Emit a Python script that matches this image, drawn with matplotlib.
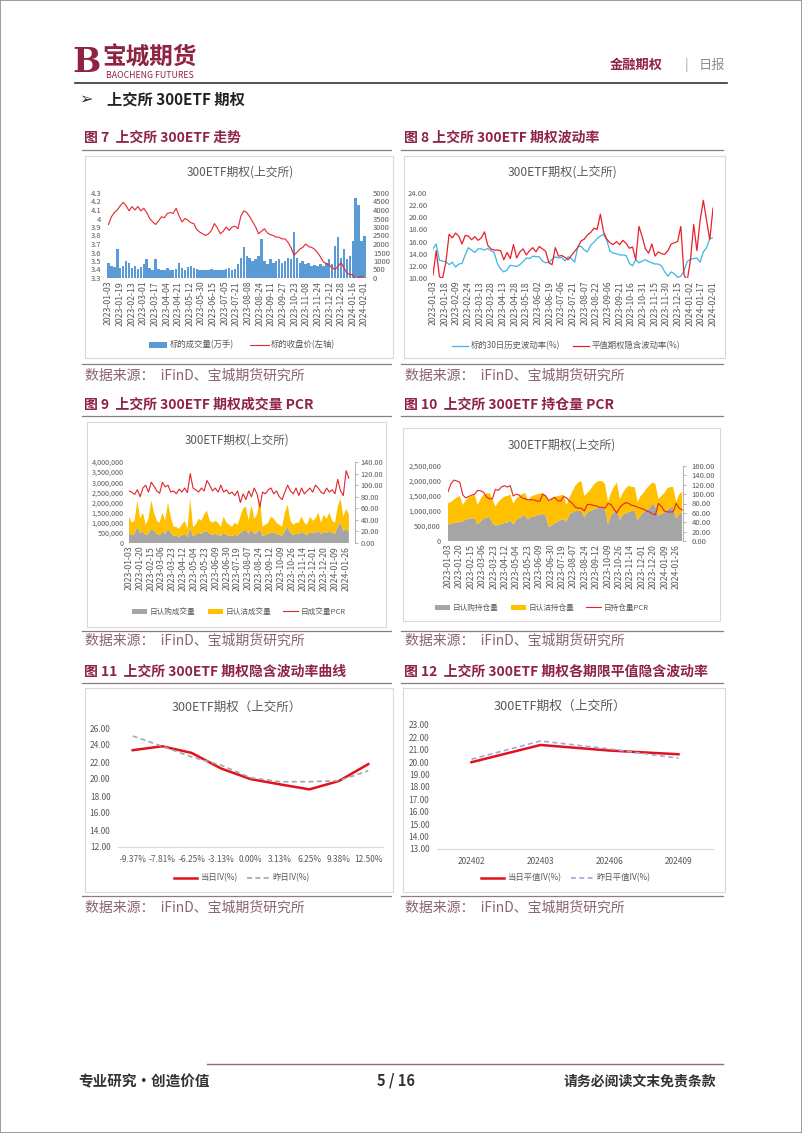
import numpy as np
import matplotlib
matplotlib.use('Agg')
import matplotlib.pyplot as plt
from matplotlib.patches import Rectangle
from matplotlib.lines import Line2D
from matplotlib.ticker import FuncFormatter

plt.rcParams['font.family'] = ['Noto Sans CJK SC', 'DejaVu Sans']

# ---- data: chart 7 (300ETF price and volume)
dates7 = ['2023-01-03', '2023-01-19', '2023-02-13', '2023-03-01', '2023-03-17', '2023-04-04',
          '2023-04-21', '2023-05-12', '2023-05-30', '2023-06-15', '2023-07-05', '2023-07-21',
          '2023-08-08', '2023-08-24', '2023-09-11', '2023-09-27', '2023-10-23', '2023-11-08',
          '2023-11-24', '2023-12-12', '2023-12-28', '2024-01-16', '2024-02-01']
price7 = [3.93, 4.02, 4.07, 4.10, 4.15, 4.19, 4.15, 4.09, 4.14, 4.10,
          4.14, 4.09, 4.12, 4.07, 4.00, 3.96, 3.93, 3.97, 4.02, 4.01,
          4.06, 4.07, 4.06, 4.12, 4.03, 3.96, 4.00, 3.98, 3.95, 3.94,
          3.87, 3.84, 3.82, 3.80, 3.82, 3.86, 3.94, 3.89, 3.82, 3.85,
          3.90, 3.86, 3.90, 3.91, 3.88, 4.03, 4.09, 4.07, 4.02, 3.96,
          3.90, 3.82, 3.85, 3.88, 3.83, 3.81, 3.80, 3.78, 3.78, 3.76,
          3.76, 3.72, 3.66, 3.57, 3.60, 3.64, 3.66, 3.70, 3.67, 3.66,
          3.64, 3.60, 3.55, 3.49, 3.47, 3.45, 3.42, 3.40, 3.44, 3.48,
          3.42, 3.36, 3.34, 3.34, 3.28, 3.31, 3.32, 3.29]
vol7 = [900, 700, 650, 1700, 600, 700, 1000, 900, 600, 700,
        550, 650, 800, 1100, 600, 500, 1100, 550, 500, 450,
        600, 500, 450, 550, 900, 600, 500, 650, 700, 600,
        550, 450, 500, 450, 500, 550, 450, 500, 450, 500,
        550, 600, 500, 550, 800, 1200, 1800, 1300, 1200, 1000,
        1100, 1300, 2300, 1000, 800, 1100, 900, 1000, 1100, 900,
        1000, 1200, 1100, 2700, 1200, 900, 1000, 800, 900, 700,
        750, 700, 800, 700, 900, 1100, 800, 1900, 2400, 1200,
        1700, 1100, 1300, 2200, 4700, 4300, 2200, 2500]

# ---- data: chart 8 (volatility)
dates8 = ['2023-01-03', '2023-01-18', '2023-02-09', '2023-02-24', '2023-03-13', '2023-03-28',
          '2023-04-13', '2023-04-28', '2023-05-18', '2023-06-02', '2023-06-19', '2023-07-06',
          '2023-07-21', '2023-08-07', '2023-08-22', '2023-09-06', '2023-09-21', '2023-10-16',
          '2023-10-31', '2023-11-15', '2023-11-30', '2023-12-15', '2024-01-02', '2024-01-17',
          '2024-02-01']
hv8 = [14.8, 15.6, 12.9, 12.8, 12.7, 12.2, 12.6, 11.8, 12.3, 12.4,
       13.8, 15.0, 14.6, 14.2, 14.8, 14.8, 14.6, 14.9, 14.5, 14.2,
       12.4, 11.5, 11.0, 11.3, 12.1, 12.0, 11.9, 12.2, 12.7, 13.3,
       13.2, 13.6, 13.5, 13.5, 12.8, 12.5, 12.6, 13.1, 13.5, 13.3,
       13.4, 12.8, 13.5, 13.2, 12.6, 15.2, 15.2, 14.6, 14.3, 15.4,
       15.9, 16.5, 16.9, 17.2, 16.2, 14.4, 14.1, 14.0, 13.8, 13.8,
       13.7, 12.4, 12.0, 13.0, 12.5, 12.8, 13.0, 12.7, 12.5, 12.3,
       12.3, 12.0, 11.0, 10.3, 11.0, 10.7, 10.1, 10.3, 11.2, 12.7,
       13.1, 13.2, 13.3, 12.6, 14.3, 15.0, 16.5, 16.6]
iv8 = [10.5, 14.5, 10.2, 10.0, 12.6, 17.2, 16.6, 17.4, 16.9, 15.6,
       17.0, 16.9, 16.3, 16.8, 16.2, 16.6, 17.6, 15.4, 14.8, 14.6,
       14.6, 14.5, 13.0, 14.2, 13.2, 15.5, 13.3, 14.3, 14.8, 13.8,
       14.5, 15.0, 14.3, 15.2, 14.8, 14.4, 12.5, 12.2, 15.0, 13.6,
       13.7, 13.4, 13.0, 13.7, 14.4, 15.0, 16.1, 16.4, 17.1, 17.5,
       18.2, 18.0, 20.5, 17.6, 16.4, 15.8, 15.5, 16.0, 15.5, 16.2,
       15.7, 14.9, 15.1, 13.0, 18.5, 16.8, 14.8, 14.1, 15.6, 13.6,
       14.3, 14.0, 13.9, 14.5, 15.6, 15.8, 16.0, 18.5, 10.5, 9.6,
       13.0, 18.8, 14.5, 19.5, 22.8, 19.5, 16.3, 21.5]

# ---- data: chart 9 (volume PCR)
dates9 = ['2023-01-03', '2023-01-20', '2023-02-15', '2023-03-06', '2023-03-23', '2023-04-12',
          '2023-05-04', '2023-05-23', '2023-06-09', '2023-06-30', '2023-07-19', '2023-08-07',
          '2023-08-24', '2023-09-12', '2023-10-09', '2023-10-26', '2023-11-14', '2023-12-01',
          '2023-12-20', '2024-01-09', '2024-01-26']
call9 = [500, 400, 450, 800, 500, 550, 400, 450, 700, 600,
         450, 400, 550, 450, 700, 500, 350, 350, 300, 400,
         450, 300, 750, 350, 400, 500, 450, 550, 600, 450,
         400, 450, 400, 350, 500, 400, 350, 350, 400, 350,
         500, 600, 650, 450, 650, 450, 500, 700, 350, 400,
         450, 500, 500, 450, 400, 350, 600, 800, 500, 400,
         450, 450, 550, 450, 400, 550, 500, 500, 600, 450,
         550, 500, 600, 500, 450, 800, 1000, 600, 700, 550]
put9 = [800, 600, 650, 1300, 700, 950, 500, 750, 1400, 900,
        650, 600, 950, 650, 1300, 800, 450, 450, 400, 500,
        650, 400, 1450, 450, 500, 700, 650, 850, 1000, 650,
        600, 650, 600, 450, 800, 600, 550, 450, 600, 550,
        800, 1100, 1150, 650, 1250, 750, 900, 1500, 450, 500,
        550, 800, 700, 550, 500, 450, 900, 1100, 600, 500,
        550, 550, 750, 550, 500, 750, 600, 700, 900, 550,
        850, 700, 900, 600, 550, 1000, 1200, 700, 1000, 850]
pcr9 = [90, 88, 84, 92, 80, 95, 100, 88, 105, 98,
        90, 86, 105, 97, 100, 88, 90, 85, 93, 88,
        95, 87, 120, 95, 92, 88, 95, 90, 108, 100,
        90, 95, 88, 100, 88, 92, 85, 88, 82, 90,
        70, 85, 75, 90, 80, 95, 85, 62, 88, 85,
        92, 95, 85, 90, 80, 75, 88, 100, 90, 85,
        95, 82, 95, 85, 90, 95, 88, 100, 95, 88,
        85, 95, 88, 92, 85, 110, 90, 82, 125, 112]

# ---- data: chart 10 (open interest PCR)
call10 = [550, 580, 600, 620, 650, 650, 720, 750, 750, 760,
          550, 650, 750, 780, 800, 600, 500, 540, 560, 600,
          620, 700, 550, 700, 760, 820, 850, 720, 800, 820,
          850, 880, 900, 850, 460, 520, 600, 650, 700, 720,
          650, 900, 950, 1000, 1000, 1000, 800, 950, 1000, 1050,
          1080, 1100, 1100, 1050, 560, 850, 950, 1000, 700, 880,
          920, 960, 1000, 1000, 700, 850, 950, 1050, 1100, 1250,
          1150, 850, 900, 950, 1050, 1100, 1100, 750, 900, 950]
put10 = [700, 720, 780, 830, 850, 550, 630, 700, 750, 790,
         650, 750, 800, 800, 800, 800, 650, 760, 840, 880,
         880, 850, 700, 700, 740, 740, 750, 630, 680, 700,
         700, 700, 700, 650, 840, 900, 880, 850, 820, 830,
         550, 550, 700, 850, 950, 1000, 700, 650, 700, 800,
         870, 900, 900, 850, 740, 750, 850, 950, 700, 720,
         830, 890, 800, 800, 600, 650, 650, 700, 750, 700,
         750, 550, 600, 650, 700, 700, 700, 550, 650, 700]
pcr10 = [105, 122, 130, 128, 125, 98, 92, 95, 98, 100,
         108, 107, 104, 94, 90, 90, 110, 108, 115, 118,
         115, 118, 96, 100, 98, 92, 90, 88, 88, 88,
         85, 85, 100, 96, 86, 90, 93, 86, 85, 95,
         92, 85, 80, 72, 70, 70, 64, 78, 78, 76,
         75, 72, 72, 70, 80, 78, 68, 60, 72, 78,
         82, 80, 76, 75, 72, 70, 68, 64, 62, 58,
         56, 80, 74, 64, 62, 62, 62, 80, 70, 66]

# ---- data: chart 11 (smile) and chart 12 (term structure)
strikes = ['-9.37%', '-7.81%', '-6.25%', '-3.13%', '0.00%', '3.13%', '6.25%', '9.38%', '12.50%']
iv_today = [23.39, 23.85, 23.07, 21.24, 19.99, 19.37, 18.78, 19.76, 21.75]
iv_yday = [25.06, 23.85, 22.60, 21.63, 20.15, 19.68, 19.68, 19.80, 20.97]
months = ['202402', '202403', '202406', '202409']
atm_today = [20.00, 21.39, 20.94, 20.64]
atm_yday = [20.24, 21.71, 21.07, 20.32]

W, H = 802, 1133
MAROON = '#8E2343'
GREY = '#595959'
fig = plt.figure(figsize=(W / 100, H / 100), dpi=100)


def fx(x):
    return x / W


def fy(y):
    return 1 - y / H


def add_ax(x0, y0, x1, y1):
    return fig.add_axes([x0 / W, 1 - y1 / H, (x1 - x0) / W, (y1 - y0) / H])


def hline(x0, x1, y, color, lw=1.0):
    fig.add_artist(Line2D([fx(x0), fx(x1)], [fy(y), fy(y)], color=color, lw=lw))


def box(x0, y0, x1, y1):
    fig.add_artist(Rectangle((fx(x0), fy(y1)), (x1 - x0) / W, (y1 - y0) / H,
                             fill=False, ec='#D9D9D9', lw=0.8))


def text(x, y, s, **kw):
    kw.setdefault('va', 'center')
    fig.text(fx(x), fy(y), s, **kw)


def style(ax, size=5.5, pad=4):
    for s in ax.spines.values():
        s.set_visible(False)
    ax.set_facecolor('none')
    ax.tick_params(length=0, labelcolor=GREY, labelsize=size, pad=pad)


def dates_axis(ax, labels, last):
    ax.set_xticks(np.linspace(0, last, len(labels)))
    ax.set_xticklabels(labels, rotation=90)
    ax.tick_params(axis='x', labelsize=6.3, pad=2)


def legend(handles, labels, x, y, size=6, **kw):
    fig.legend(handles, labels, loc='center', bbox_to_anchor=(fx(x), fy(y)), ncol=len(handles),
               frameon=False, fontsize=size, labelcolor=GREY, handletextpad=0.3, **kw)


# ---- page frame, header and footer
fig.add_artist(Rectangle((0, 0), 1, 1, fill=False, ec='#8C8C8C', lw=1.2))
text(87, 62, 'B', fontsize=24, color=MAROON, ha='center', family='DejaVu Serif', weight='bold')
text(150, 58, '宝城期货', fontsize=17, color=MAROON, ha='center', weight='bold')
text(150, 75, 'BAOCHENG FUTURES', fontsize=6.3, color=MAROON, ha='center')
text(636, 65, '金融期权', fontsize=9.5, color=MAROON, ha='center', weight='bold')
text(686, 65, '|', fontsize=9.5, color='#A6A6A6', ha='center')
text(712, 65, '日报', fontsize=9.5, color='#8C8C8C', ha='center')
hline(75, 727, 83, '#333333', 1.2)
text(79, 100, '➢', fontsize=11.5, color='#333333', family=['DejaVu Sans'])
text(107, 100, '上交所 300ETF 期权', fontsize=11, color='#222222', weight='bold')

hline(207, 723, 1064, '#8E6E7D', 1.0)
text(78, 1081, '专业研究·创造价值', fontsize=10.5, color='#333333', weight='bold')
text(396, 1081, '5 / 16', fontsize=10.5, color='#333333', ha='center', weight='bold')
text(716, 1081, '请务必阅读文末免责条款', fontsize=10, color='#333333', ha='right', weight='bold')

# ---- section titles, rules and sources
titles = [(84, 138, '图 7  上交所 300ETF 走势'), (404, 138, '图 8 上交所 300ETF 期权波动率'),
          (84, 405, '图 9  上交所 300ETF 期权成交量 PCR'), (404, 405, '图 10  上交所 300ETF 持仓量 PCR'),
          (84, 672, '图 11  上交所 300ETF 期权隐含波动率曲线'),
          (404, 672, '图 12  上交所 300ETF 期权各期限平值隐含波动率')]
for x, y, s in titles:
    text(x, y, s, fontsize=10, color=MAROON, weight='bold')
for y in [150, 364, 416, 631, 683, 896]:
    hline(82, 391, y, '#8E7A83', 0.9)
    hline(401, 723, y, '#8E7A83', 0.9)
for y in [376, 641, 908]:
    text(85, y, '数据来源：  iFinD、宝城期货研究所', fontsize=10, color='#8B6474')
    text(405, y, '数据来源：  iFinD、宝城期货研究所', fontsize=10, color='#8B6474')

for b in [(85, 156, 393, 358), (404, 156, 725, 358), (87, 422, 386, 627),
          (403, 428, 720, 621), (85, 688, 393, 892), (403, 688, 725, 892)]:
    box(*b)

# ---- chart 7
text(240, 172, '300ETF期权(上交所)', fontsize=8.5, color=GREY, ha='center')
ax7 = add_ax(107, 193, 366, 278)
x7 = np.arange(len(price7))
bars7 = ax7.bar(x7, vol7, width=0.85, color='#5B9BD5')
ax7.set_ylim(0, 5000)
ax7.set_yticks(range(0, 5001, 500))
ax7.set_xlim(-0.5, len(x7) - 0.5)
ax7p = ax7.twinx()
line7, = ax7p.plot(x7, price7, color='#E3262E', lw=0.8)
ax7p.set_ylim(3.3, 4.3)
ticks7 = np.round(np.arange(3.3, 4.31, 0.1), 1)
ax7p.set_yticks(ticks7)
ax7p.set_yticklabels([f'{v:g}' for v in ticks7])
ax7.yaxis.tick_right()
ax7p.yaxis.tick_left()
style(ax7, pad=5)
style(ax7p, pad=4)
dates_axis(ax7, dates7, len(x7) - 1)
legend([bars7, line7], ['标的成交量(万手)', '标的收盘价(左轴)'], 242, 345,
       handlelength=2.2, columnspacing=2.0)

# ---- chart 8
text(563, 173, '300ETF期权(上交所)', fontsize=8.7, color=GREY, ha='center')
ax8 = add_ax(433, 193, 713, 278)
x8 = np.arange(len(hv8))
l8a, = ax8.plot(x8, hv8, color='#3DB5E6', lw=0.9)
l8b, = ax8.plot(x8, iv8, color='#E8202C', lw=0.9)
ax8.set_ylim(10, 24)
ax8.set_yticks(range(10, 25, 2))
ax8.yaxis.set_major_formatter(FuncFormatter(lambda v, p: f'{v:.2f}'))
ax8.set_xlim(0, len(x8) - 1)
style(ax8, pad=4)
dates_axis(ax8, dates8, len(x8) - 1)
legend([l8a, l8b], ['标的30日历史波动率(%)', '平值期权隐含波动率(%)'], 566, 346,
       handlelength=2.0, columnspacing=1.5)

# ---- chart 9
text(237, 440, '300ETF期权(上交所)', fontsize=8.3, color=GREY, ha='center')
ax9 = add_ax(129, 462, 355, 543)
x9 = np.arange(len(call9))
st9 = ax9.stackplot(x9, np.array(call9) * 1000, np.array(put9) * 1000,
                    colors=['#A5A5A5', '#FFC000'], lw=0)
ax9.set_ylim(0, 4000000)
ax9.set_yticks(range(0, 4000001, 500000))
ax9.yaxis.set_major_formatter(FuncFormatter(lambda v, p: f'{int(v):,}'))
ax9.set_xlim(0, len(x9) + 1.2)
ax9r = ax9.twinx()
l9, = ax9r.plot(x9, pcr9, color='#E3242B', lw=0.8)
ax9r.set_ylim(0, 140)
ax9r.set_yticks(range(0, 141, 20))
ax9r.yaxis.set_major_formatter(FuncFormatter(lambda v, p: f'{v:.2f}'))
style(ax9, size=5.2, pad=4)
style(ax9r, size=5.3, pad=2)
ax9r.spines['right'].set_visible(True)
ax9r.spines['right'].set_color('#A6A6A6')
ax9r.spines['right'].set_linewidth(0.6)
ax9r.tick_params(axis='y', length=2, width=0.6, color='#A6A6A6', direction='out')
dates_axis(ax9, dates9, 78)
legend([st9[0], st9[1], l9], ['日认购成交量', '日认沽成交量', '日成交量PCR'], 239, 612,
       size=5.5, handlelength=2.0, columnspacing=1.6)

# ---- chart 10
text(562, 445, '300ETF期权(上交所)', fontsize=8.6, color=GREY, ha='center')
ax10 = add_ax(448, 466, 683, 541)
x10 = np.arange(len(call10))
st10 = ax10.stackplot(x10, np.array(call10) * 1000, np.array(put10) * 1000,
                      colors=['#A5A5A5', '#FFC000'], lw=0)
ax10.set_ylim(0, 2500000)
ax10.set_yticks(range(0, 2500001, 500000))
ax10.yaxis.set_major_formatter(FuncFormatter(lambda v, p: f'{int(v):,}'))
ax10.set_xlim(0, len(x10) - 0.7)
ax10r = ax10.twinx()
l10, = ax10r.plot(x10, pcr10, color='#E3242B', lw=0.8)
ax10r.set_ylim(0, 160)
ax10r.set_yticks(range(0, 161, 20))
ax10r.yaxis.set_major_formatter(FuncFormatter(lambda v, p: f'{v:.2f}'))
style(ax10, size=5.3, pad=5)
style(ax10r, size=5.5, pad=4)
ax10r.spines['right'].set_visible(True)
ax10r.spines['right'].set_color('#A6A6A6')
ax10r.spines['right'].set_linewidth(0.6)
ax10r.tick_params(axis='y', length=2, width=0.6, color='#A6A6A6', direction='out')
dates_axis(ax10, dates9, 77)
legend([st10[0], st10[1], l10], ['日认购持仓量', '日认沽持仓量', '日持仓量PCR'], 542, 608,
       size=5.5, handlelength=2.0, columnspacing=1.6)

# ---- chart 11
text(237, 707, '300ETF期权（上交所）', fontsize=9, color=GREY, ha='center')
ax11 = add_ax(118, 728, 383, 847)
l11a, = ax11.plot(range(len(strikes)), iv_today, color='#E3101E', lw=1.8)
l11b, = ax11.plot(range(len(strikes)), iv_yday, color='#A6A6A6', lw=1.2, ls=(0, (3, 2)))
ax11.set_xlim(-0.5, len(strikes) - 0.5)
ax11.set_ylim(12, 26)
ax11.set_yticks(range(12, 27, 2))
ax11.yaxis.set_major_formatter(FuncFormatter(lambda v, p: f'{v:.2f}'))
ax11.set_xticks(range(len(strikes)))
ax11.set_xticklabels(strikes)
style(ax11, size=6, pad=5.5)
ax11.spines['bottom'].set_visible(True)
ax11.spines['bottom'].set_color('#D9D9D9')
ax11.spines['bottom'].set_linewidth(0.8)
legend([l11a, l11b], ['当日IV(%)', '昨日IV(%)'], 242, 878, size=6,
       handlelength=2.8, columnspacing=1.2)

# ---- chart 12
text(560, 706, '300ETF期权（上交所）', fontsize=9.2, color=GREY, ha='center')
ax12 = add_ax(437, 725, 713, 849)
l12a, = ax12.plot(range(len(months)), atm_today, color='#E3101E', lw=1.8)
l12b, = ax12.plot(range(len(months)), atm_yday, color='#9DA7D8', lw=1.2, ls=(0, (3, 2)))
ax12.set_xlim(-0.5, len(months) - 0.5)
ax12.set_ylim(13, 23)
ax12.set_yticks(range(13, 24))
ax12.yaxis.set_major_formatter(FuncFormatter(lambda v, p: f'{v:.2f}'))
ax12.set_xticks(range(len(months)))
ax12.set_xticklabels(months)
style(ax12, size=6, pad=5.5)
ax12.spines['bottom'].set_visible(True)
ax12.spines['bottom'].set_color('#D9D9D9')
ax12.spines['bottom'].set_linewidth(0.8)
legend([l12a, l12b], ['当日平值IV(%)', '昨日平值IV(%)'], 566, 878, size=6,
       handlelength=2.8, columnspacing=1.2)

fig.savefig('out.png', dpi=100)
